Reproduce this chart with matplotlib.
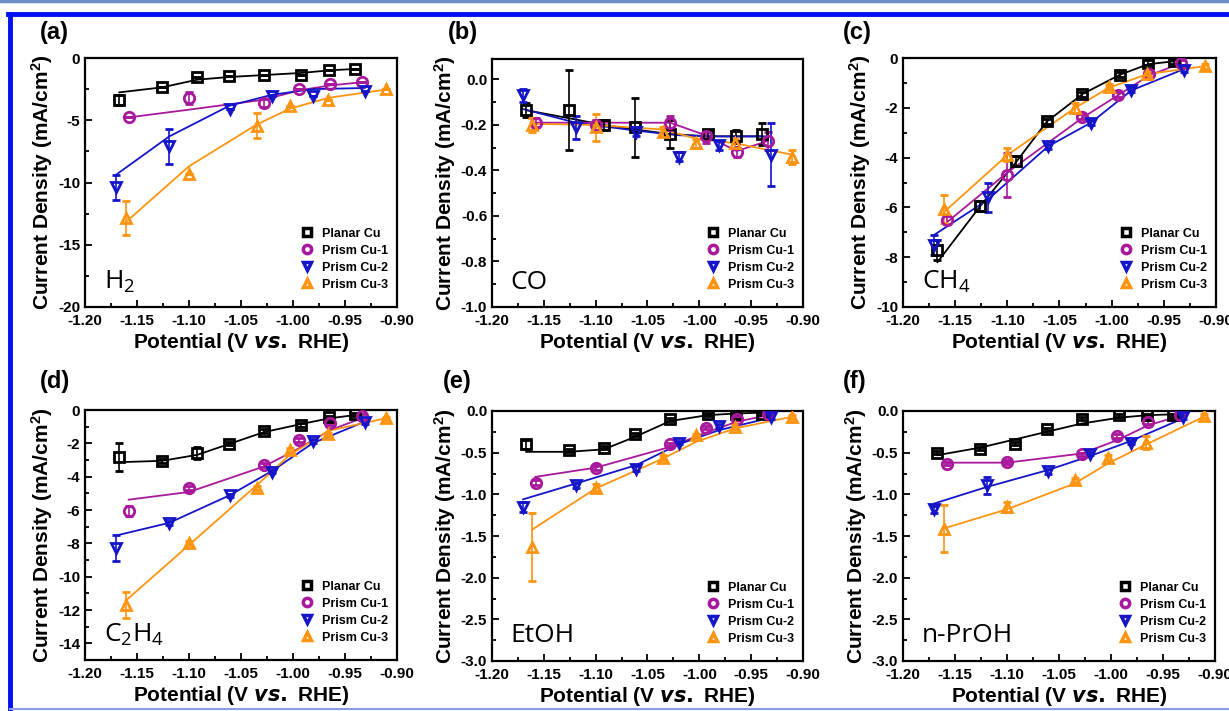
import matplotlib
matplotlib.use("Agg")
import matplotlib.pyplot as plt
from matplotlib.lines import Line2D
from matplotlib.ticker import MultipleLocator
import numpy as np

plt.rcParams['font.family'] = ['Liberation Sans', 'DejaVu Sans']
plt.rcParams['font.weight'] = 'bold'
plt.rcParams['mathtext.default'] = 'regular'

# potentials (V vs. RHE) for each electrode
x_planar = [-1.167, -1.126, -1.092, -1.062, -1.028, -0.992, -0.965, -0.940]
x_prism1 = [-1.158, -1.100, -1.028, -0.994, -0.964, -0.934]
x_prism2 = [-1.170, -1.119, -1.061, -1.020, -0.981, -0.931]
x_prism3 = [-1.161, -1.100, -1.035, -1.003, -0.966, -0.911]

series_names = ["Planar Cu", "Prism Cu-1", "Prism Cu-2", "Prism Cu-3"]
series_colors = ["#000000", "#A8189C", "#1414C8", "#FF9410"]
series_markers = ["s", "o", "v", "^"]

# (a) H2
h2_planar = [-3.4, -2.36, -1.55, -1.42, -1.37, -1.37, -0.99, -0.91]
h2_planar_fit = [-2.76, -2.36, -1.74, -1.53, -1.37, -1.2, -0.99, -0.88]
h2_planar_err = [0.4, 0, 0, 0, 0, 0, 0, 0]
h2_prism1 = [-4.77, -3.2, -3.6, -2.5, -2.09, -1.95]
h2_prism1_fit = [-4.77, -4.15, -3.35, -2.6, -2.2, -1.95]
h2_prism1_err = [0, 0.5, 0.3, 0, 0, 0]
h2_prism2 = [-10.4, -7.1, -4.1, -3.08, -3.08, -2.68]
h2_prism2_fit = [-9.37, -6.3, -3.83, -2.95, -2.5, -2.41]
h2_prism2_err = [1.0, 1.4, 0, 0, 0, 0]
h2_prism3 = [-12.85, -9.3, -5.43, -3.83, -3.35, -2.5]
h2_prism3_fit = [-13.2, -8.7, -5.35, -4.07, -3.2, -2.54]
h2_prism3_err = [1.35, 0, 1.0, 0, 0, 0]

# (b) CO
co_planar = [-0.135, -0.135, -0.2, -0.21, -0.24, -0.24, -0.25, -0.24]
co_planar_fit = [-0.135, -0.17, -0.2, -0.22, -0.24, -0.25, -0.25, -0.25]
co_planar_err = [0.03, 0.175, 0.02, 0.13, 0.06, 0.02, 0.03, 0.05]
co_prism1 = [-0.19, -0.2, -0.19, -0.25, -0.32, -0.27]
co_prism1_fit = [-0.19, -0.19, -0.19, -0.245, -0.315, -0.27]
co_prism1_err = [0.02, 0.02, 0.03, 0.03, 0.02, 0.04]
co_prism2 = [-0.07, -0.21, -0.23, -0.34, -0.29, -0.33]
co_prism2_fit = [-0.13, -0.19, -0.225, -0.245, -0.25, -0.25]
co_prism2_err = [0.03, 0.05, 0.02, 0.02, 0.02, 0.14]
co_prism3 = [-0.2, -0.21, -0.23, -0.28, -0.28, -0.34]
co_prism3_fit = [-0.195, -0.2, -0.22, -0.26, -0.28, -0.33]
co_prism3_err = [0.03, 0.06, 0.02, 0.02, 0.02, 0.03]

# (c) CH4
ch4_planar = [-7.7, -5.96, -4.15, -2.54, -1.45, -0.67, -0.2, -0.13]
ch4_planar_fit = [-8.2, -5.95, -4.2, -2.55, -1.45, -0.67, -0.25, -0.13]
ch4_planar_err = [0.4, 0.2, 0.2, 0.1, 0.1, 0.1, 0.1, 0.1]
ch4_prism1 = [-6.5, -4.7, -2.35, -1.47, -0.65, -0.2]
ch4_prism1_fit = [-6.6, -4.6, -2.4, -1.5, -0.7, -0.22]
ch4_prism1_err = [0.15, 0.9, 0.1, 0.1, 0.1, 0.1]
ch4_prism2 = [-7.5, -5.6, -3.55, -2.6, -1.27, -0.47]
ch4_prism2_fit = [-7.1, -5.7, -3.55, -2.6, -1.3, -0.45]
ch4_prism2_err = [0.4, 0.6, 0.1, 0.1, 0.1, 0.1]
ch4_prism3 = [-6.06, -3.88, -2.0, -1.16, -0.63, -0.33]
ch4_prism3_fit = [-6.2, -3.9, -2.0, -1.2, -0.65, -0.33]
ch4_prism3_err = [0.55, 0.25, 0.2, 0.1, 0.1, 0.1]

# (d) C2H4
c2h4_planar = [-2.83, -3.05, -2.59, -2.01, -1.25, -0.9, -0.44, -0.26]
c2h4_planar_fit = [-3.13, -3.05, -2.69, -2.05, -1.33, -0.84, -0.5, -0.3]
c2h4_planar_err = [0.85, 0.1, 0.35, 0.1, 0.1, 0.1, 0.1, 0.1]
c2h4_prism1 = [-6.08, -4.68, -3.29, -1.79, -0.8, -0.36]
c2h4_prism1_fit = [-5.38, -4.92, -3.39, -2.29, -1.2, -0.5]
c2h4_prism1_err = [0.3, 0.1, 0.1, 0.1, 0.1, 0.1]
c2h4_prism2 = [-8.27, -6.77, -5.12, -3.69, -1.85, -0.74]
c2h4_prism2_fit = [-7.53, -6.77, -5.12, -3.65, -1.99, -0.7]
c2h4_prism2_err = [0.8, 0.1, 0.1, 0.1, 0.1, 0.1]
c2h4_prism3 = [-11.7, -7.97, -4.68, -2.39, -1.45, -0.5]
c2h4_prism3_fit = [-11.45, -8.1, -4.52, -2.69, -1.25, -0.5]
c2h4_prism3_err = [0.8, 0.1, 0.1, 0.1, 0.1, 0.1]

# (e) EtOH
etoh_planar = [-0.4, -0.47, -0.44, -0.28, -0.1, -0.04, -0.03, -0.03]
etoh_planar_fit = [-0.49, -0.49, -0.46, -0.31, -0.12, -0.05, -0.03, -0.02]
etoh_planar_err = [0.05, 0.02, 0.02, 0.02, 0.02, 0.02, 0.02, 0.02]
etoh_prism1 = [-0.86, -0.68, -0.4, -0.2, -0.09, -0.04]
etoh_prism1_fit = [-0.79, -0.68, -0.43, -0.26, -0.13, -0.05]
etoh_prism1_err = [0.03, 0.03, 0.02, 0.02, 0.02, 0.02]
etoh_prism2 = [-1.15, -0.89, -0.69, -0.38, -0.18, -0.07]
etoh_prism2_fit = [-1.06, -0.87, -0.65, -0.4, -0.23, -0.08]
etoh_prism2_err = [0.06, 0.03, 0.03, 0.02, 0.02, 0.02]
etoh_prism3 = [-1.63, -0.92, -0.56, -0.29, -0.19, -0.07]
etoh_prism3_fit = [-1.42, -0.93, -0.57, -0.37, -0.21, -0.07]
etoh_prism3_err = [0.41, 0.04, 0.03, 0.02, 0.02, 0.02]

# (f) n-PrOH
prop_planar = [-0.5, -0.45, -0.39, -0.22, -0.09, -0.05, -0.05, -0.05]
prop_planar_fit = [-0.53, -0.44, -0.34, -0.25, -0.15, -0.08, -0.05, -0.04]
prop_planar_err = [0.02, 0.02, 0.02, 0.02, 0.02, 0.02, 0.02, 0.02]
prop_prism1 = [-0.63, -0.61, -0.52, -0.3, -0.13, -0.05]
prop_prism1_fit = [-0.62, -0.62, -0.51, -0.35, -0.17, -0.06]
prop_prism1_err = [0.02, 0.02, 0.02, 0.02, 0.02, 0.02]
prop_prism2 = [-1.18, -0.89, -0.72, -0.51, -0.38, -0.07]
prop_prism2_fit = [-1.11, -0.91, -0.71, -0.54, -0.36, -0.09]
prop_prism2_err = [0.04, 0.1, 0.03, 0.02, 0.02, 0.02]
prop_prism3 = [-1.41, -1.15, -0.83, -0.56, -0.38, -0.06]
prop_prism3_fit = [-1.41, -1.18, -0.87, -0.63, -0.4, -0.07]
prop_prism3_err = [0.28, 0.06, 0.03, 0.03, 0.08, 0.02]

xs = [x_planar, x_prism1, x_prism2, x_prism3]

panels = [
    ("(a)", "H$_2$", (85, 397, 58, 307), (-20, 0), 5, 2.5, "%d",
     [h2_planar, h2_prism1, h2_prism2, h2_prism3],
     [h2_planar_fit, h2_prism1_fit, h2_prism2_fit, h2_prism3_fit],
     [h2_planar_err, h2_prism1_err, h2_prism2_err, h2_prism3_err], (40, 32)),
    ("(b)", "CO", (492, 803, 59, 307), (-1.0, 0.09), 0.2, 0.1, "%.1f",
     [co_planar, co_prism1, co_prism2, co_prism3],
     [co_planar_fit, co_prism1_fit, co_prism2_fit, co_prism3_fit],
     [co_planar_err, co_prism1_err, co_prism2_err, co_prism3_err], (448, 32)),
    ("(c)", "CH$_4$", (903, 1216, 58, 307), (-10, 0), 2, 1, "%d",
     [ch4_planar, ch4_prism1, ch4_prism2, ch4_prism3],
     [ch4_planar_fit, ch4_prism1_fit, ch4_prism2_fit, ch4_prism3_fit],
     [ch4_planar_err, ch4_prism1_err, ch4_prism2_err, ch4_prism3_err], (843, 32)),
    ("(d)", "C$_2$H$_4$", (85, 397, 410, 660), (-15, 0), 2, 1, "%d",
     [c2h4_planar, c2h4_prism1, c2h4_prism2, c2h4_prism3],
     [c2h4_planar_fit, c2h4_prism1_fit, c2h4_prism2_fit, c2h4_prism3_fit],
     [c2h4_planar_err, c2h4_prism1_err, c2h4_prism2_err, c2h4_prism3_err], (40, 382)),
    ("(e)", "EtOH", (492, 803, 411, 661), (-3.0, 0), 0.5, 0.25, "%.1f",
     [etoh_planar, etoh_prism1, etoh_prism2, etoh_prism3],
     [etoh_planar_fit, etoh_prism1_fit, etoh_prism2_fit, etoh_prism3_fit],
     [etoh_planar_err, etoh_prism1_err, etoh_prism2_err, etoh_prism3_err], (443, 382)),
    ("(f)", "n-PrOH", (903, 1215, 411, 661), (-3.0, 0), 0.5, 0.25, "%.1f",
     [prop_planar, prop_prism1, prop_prism2, prop_prism3],
     [prop_planar_fit, prop_prism1_fit, prop_prism2_fit, prop_prism3_fit],
     [prop_planar_err, prop_prism1_err, prop_prism2_err, prop_prism3_err], (843, 382)),
]

W, H = 1229, 711
fig = plt.figure(figsize=(W / 100, H / 100), dpi=100)

for tag, species, (L, R, T, B), ylim, ymaj, ymin, fmt, ys, fits, errs, tagpos in panels:
    ax = fig.add_axes([L / W, (H - B) / H, (R - L) / W, (B - T) / H])
    for i in range(4):
        c = series_colors[i]
        ax.plot(xs[i], fits[i], color=c, lw=1.3, zorder=2)
        ax.errorbar(xs[i], ys[i], yerr=errs[i], fmt=series_markers[i], color=c,
                    mfc='none', mec=c, ms=7.5, mew=2.0, ecolor=c, elinewidth=1.2,
                    capsize=3, capthick=1.2, zorder=3)
    ax.set_xlim(-1.20, -0.90)
    ax.set_ylim(*ylim)
    ax.xaxis.set_major_locator(MultipleLocator(0.05))
    ax.xaxis.set_minor_locator(MultipleLocator(0.025))
    ax.yaxis.set_major_locator(MultipleLocator(ymaj))
    ax.yaxis.set_minor_locator(MultipleLocator(ymin))
    ax.xaxis.set_major_formatter(plt.FormatStrFormatter("%.2f"))
    ax.yaxis.set_major_formatter(plt.FormatStrFormatter(fmt))
    ax.tick_params(which='both', direction='in', top=False, right=False, labelsize=11, width=1.3)
    ax.tick_params(which='major', length=5)
    ax.tick_params(which='minor', length=3)
    ax.tick_params(axis='x', pad=5)
    for s in ax.spines.values():
        s.set_linewidth(1.6)
    ax.set_xlabel("Potential (V $\\it{vs.}$ RHE)", fontsize=15, fontweight='bold', labelpad=2)
    ax.set_ylabel("Current Density (mA/cm$^2$)", fontsize=15, fontweight='bold', labelpad=2)
    ax.text(0.06, 0.05, species, transform=ax.transAxes, fontsize=19,
            fontweight='normal', family=['Open Sans', 'DejaVu Sans'], va='bottom')
    handles = [Line2D([], [], ls='none', marker=series_markers[i], mfc='none',
                      mec=series_colors[i], ms=6, mew=2.5) for i in range(4)]
    ax.legend(handles, series_names, loc='lower right', bbox_to_anchor=(1.0, 0.03),
              frameon=False, fontsize=9, labelspacing=0.4, handlelength=1.0,
              handletextpad=0.7, borderaxespad=0.3)
    fig.text(tagpos[0] / W, 1 - tagpos[1] / H, tag, fontsize=17, fontweight='bold',
             va='center', ha='left')

# blue page frame around the figure
fig.add_artist(Line2D([0, 1], [1 - 1 / H, 1 - 1 / H], color='#6E8CC8', lw=2.5))
fig.add_artist(Line2D([8 / W, 1], [1 - 14 / H, 1 - 14 / H], color='#0010F0', lw=3.5))
fig.add_artist(Line2D([10 / W, 10 / W], [0, 1 - 14 / H], color='#0010F0', lw=3.5))
fig.add_artist(Line2D([10 / W, 1], [2 / H, 2 / H], color='#8C9CE8', lw=1.5))

fig.savefig("out.png", dpi=100)
